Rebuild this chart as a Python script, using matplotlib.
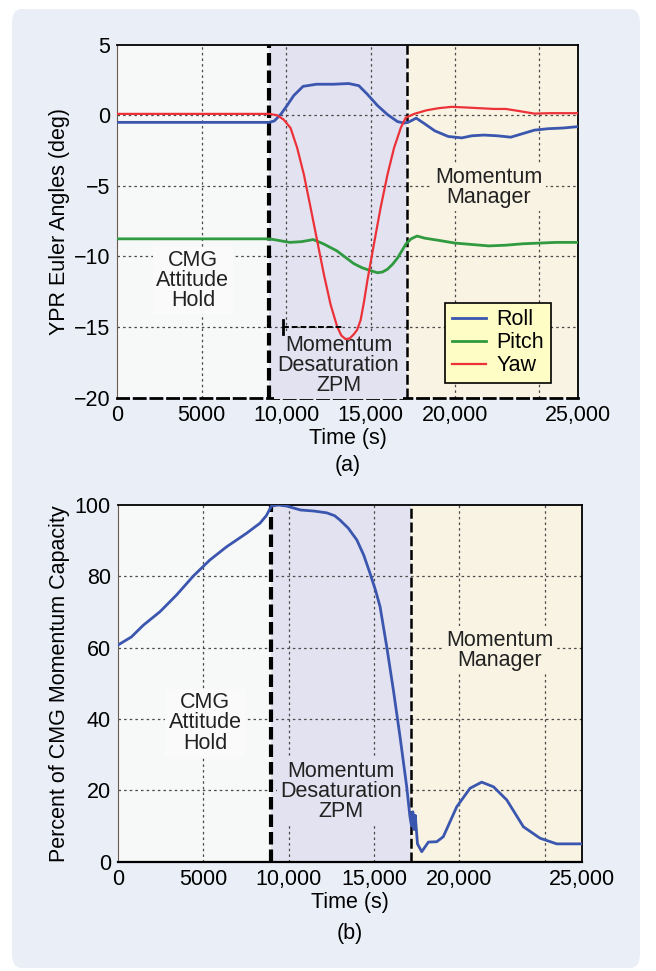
import matplotlib
matplotlib.use("Agg")
import matplotlib.pyplot as plt
from matplotlib.patches import FancyBboxPatch

plt.rcParams['font.family'] = ['Liberation Sans', 'DejaVu Sans']
plt.rcParams['axes.unicode_minus'] = True

# ---------------- data ----------------
t_roll = [0, 9000, 9300, 9700, 10000, 10450, 11000, 11800, 12800, 13700, 14300, 14800,
          15400, 16000, 16600, 17000, 17300, 17700, 18200, 18800, 19600, 20400, 21000,
          21700, 22500, 23300, 24000, 24700, 25500, 26400, 27300]
roll = [-0.5, -0.5, -0.4, 0.1, 0.6, 1.4, 2.05, 2.2, 2.2, 2.25, 2.1, 1.5,
        0.7, 0.05, -0.45, -0.55, -0.45, -0.2, -0.6, -1.1, -1.5, -1.6, -1.45,
        -1.4, -1.45, -1.55, -1.3, -1.05, -0.95, -0.9, -0.8]

t_pitch = [0, 9000, 9500, 10200, 10900, 11600, 12200, 13000, 13500, 14000, 14500, 15000,
           15400, 15700, 16000, 16300, 16600, 16850, 17100, 17400, 17750, 18200, 19000,
           20000, 21000, 22000, 23000, 24000, 25000, 26000, 27300]
pitch = [-8.75, -8.75, -8.85, -9.0, -8.95, -8.8, -9.1, -9.6, -10.05, -10.5, -10.8, -11.0,
         -11.15, -11.1, -10.9, -10.55, -10.1, -9.6, -9.1, -8.75, -8.55, -8.7, -8.85,
         -9.05, -9.15, -9.25, -9.2, -9.1, -9.05, -9.0, -9.0]

t_yaw = [0, 9000, 9470, 9850, 10260, 10650, 11050, 11440, 11840, 12230, 12630, 13030,
         13270, 13520, 13770, 14010, 14200, 14410, 14610, 14810, 15200, 15600, 16000,
         16390, 16790, 17080, 17580, 18300, 19000, 19800, 20700, 21500, 22300, 23000,
         23800, 24700, 25600, 26500, 27300]
yaw = [0.1, 0.1, 0.0, -0.3, -0.9, -2.3, -4.2, -6.5, -8.9, -11.25, -13.4, -15.0,
       -15.6, -15.85, -15.8, -15.5, -15.2, -14.5, -13.2, -11.7, -9.1, -6.5, -4.2,
       -2.3, -0.88, -0.17, 0.1, 0.35, 0.5, 0.6, 0.55, 0.5, 0.45, 0.45,
       0.3, 0.12, 0.15, 0.15, 0.15]

t_cap = [0, 800, 1500, 2480, 3450, 4430, 5400, 6380, 7550, 8330, 8700, 9000,
         9400, 9900, 10700, 11500, 12240, 12700, 13010, 13500, 14000, 14400, 14770, 15100,
         15360, 15750, 16140, 16530, 16920, 17110, 17200, 17280, 17350, 17420, 17550,
         17800, 18190, 18680, 19060, 19850, 20630, 21310, 22000, 22780, 23750, 24720,
         25700, 27200]
capacity = [60.7, 63, 66.3, 70.1, 74.8, 80.1, 84.6, 88.3, 92.1, 94.9, 97, 99.7,
            100, 99.7, 98.6, 98.3, 97.8, 97, 95.8, 93.5, 90.2, 86, 80.9, 76,
            71.5, 60.3, 48.1, 35, 21, 12.6, 10, 14, 9, 13, 5,
            2.8, 5.5, 5.6, 7, 15.4, 20.6, 22.3, 21, 17.3, 9.8, 6.6,
            5, 5]

phase_bounds = [9000, 17150]
xtick_pos = [0, 5000, 10000, 15000, 20000]
xtick_labels = ['0', '5000', '10,000', '15,000', '20,000', '25,000']
grid_x = [5000, 10000, 15000, 20000, 25000]

# ---------------- style ----------------
FS = 15.5
C_ROLL = '#3B56AE'
C_PITCH = '#2F9A40'
C_YAW = '#EC3238'
C_R1 = '#F7F8F8'
C_R2 = '#E3E2F0'
C_R3 = '#F8F3E2'
C_PANEL = '#E9EEF7'
GRID_KW = dict(color='#4a4a4a', lw=0.9, ls=(0, (2, 2.5)), zorder=1)

fig = plt.figure(figsize=(6.56, 9.71), dpi=100, facecolor='white')
panel = FancyBboxPatch((12 / 656, 3 / 971), 628 / 656, 959 / 971,
                       boxstyle='round,pad=0,rounding_size=0.015',
                       transform=fig.transFigure, facecolor=C_PANEL, edgecolor='none',
                       zorder=-10)
fig.patches.append(panel)


def setup(ax, xmax, ylim, yticks, yticklabels):
    ax.set_xlim(0, xmax)
    ax.set_ylim(*ylim)
    ax.axvspan(0, phase_bounds[0], color=C_R1, zorder=0, lw=0)
    ax.axvspan(phase_bounds[0], phase_bounds[1], color=C_R2, zorder=0, lw=0)
    ax.axvspan(phase_bounds[1], xmax, color=C_R3, zorder=0, lw=0)
    for gx in grid_x:
        ax.axvline(gx, **GRID_KW)
    for gy in yticks[1:-1]:
        ax.axhline(gy, **GRID_KW)
    ax.axvline(phase_bounds[0], color='black', lw=3.0, ls=(0, (3, 1.2)), zorder=4)
    ax.axvline(phase_bounds[1], color='black', lw=1.8, ls=(0, (4, 1.5)), zorder=4)
    ax.set_xticks(xtick_pos + [xmax])
    ax.set_xticklabels(xtick_labels, fontsize=FS)
    ax.set_yticks(yticks)
    ax.set_yticklabels(yticklabels, fontsize=FS)
    ax.tick_params(length=0, pad=5)
    for s in ['top', 'right']:
        ax.spines[s].set_color('black')
        ax.spines[s].set_linewidth(1.3)
    ax.spines['left'].set_color('#6b5a50')
    ax.spines['left'].set_linewidth(0.8)
    ax.spines['bottom'].set_color('black')
    ax.spines['bottom'].set_linewidth(1.6)
    ax.set_xlabel('Time (s)', fontsize=FS, labelpad=2)


def label(ax, x, y, s, fc):
    ax.text(x, y, s, ha='center', va='center', fontsize=FS, linespacing=0.95,
            color='#222222', zorder=3,
            bbox=dict(boxstyle='square,pad=0.15', facecolor=fc, edgecolor='none'))


# ---------------- top panel ----------------
ax1 = fig.add_axes([117.3 / 656, 1 - 397.7 / 971, 461 / 656, 353 / 971])
setup(ax1, 27300, (-20, 5), [-20, -15, -10, -5, 0, 5],
      ['\u221220', '\u221215', '\u221210', '\u22125', '0', '5'])
ax1.spines['bottom'].set_linestyle((0, (4, 2)))
ax1.spines['bottom'].set_linewidth(2.0)
ax1.plot(t_roll, roll, color=C_ROLL, lw=2.0, label='Roll', zorder=5)
ax1.plot(t_pitch, pitch, color=C_PITCH, lw=2.0, label='Pitch', zorder=5)
ax1.plot(t_yaw, yaw, color=C_YAW, lw=1.6, label='Yaw', zorder=5)
ax1.plot([9800, 13300], [-15, -15], color='black', lw=1.4, ls=(0, (3, 1.5)), zorder=5)
ax1.plot([9800, 9800], [-14.5, -15.5], color='black', lw=2.0, zorder=5)
ax1.set_ylabel('YPR Euler Angles (deg)', fontsize=FS, labelpad=3)
label(ax1, 4480, -11.7, 'CMG\nAttitude\nHold', '#FAFAFA')
label(ax1, 13100, -17.7, 'Momentum\nDesaturation\nZPM', C_R2)
label(ax1, 22000, -5.1, 'Momentum\nManager', C_R3)
leg = ax1.legend(loc='lower left', bbox_to_anchor=(0.711, 0.042), fontsize=FS,
                 frameon=True, fancybox=False, edgecolor='black', facecolor='#FFFDC6',
                 framealpha=1, handlelength=1.6, handletextpad=0.5, labelspacing=0.1,
                 borderpad=0.3, borderaxespad=0)
leg.get_frame().set_linewidth(1.2)
leg.set_zorder(7)
fig.text(0.5 * (117.3 + 578.3) / 656, 1 - 465 / 971, '(a)', ha='center', va='center',
         fontsize=FS)

# ---------------- bottom panel ----------------
ax2 = fig.add_axes([117.7 / 656, 1 - 861.7 / 971, 464.6 / 656, 356.7 / 971])
setup(ax2, 27200, (0, 100), [0, 20, 40, 60, 80, 100],
      ['0', '20', '40', '60', '80', '100'])
ax2.plot(t_cap, capacity, color=C_ROLL, lw=2.0, zorder=5)
ax2.set_ylabel('Percent of CMG Momentum Capacity', fontsize=FS, labelpad=3)
label(ax2, 5110, 38.9, 'CMG\nAttitude\nHold', '#FAFAFA')
label(ax2, 13060, 19.6, 'Momentum\nDesaturation\nZPM', C_R2)
label(ax2, 22380, 59.3, 'Momentum\nManager', C_R3)
fig.text(0.5 * (117.7 + 582.3) / 656, 1 - 933 / 971, '(b)', ha='center', va='center',
         fontsize=FS)

fig.savefig('out.png', dpi=100, facecolor='white')
